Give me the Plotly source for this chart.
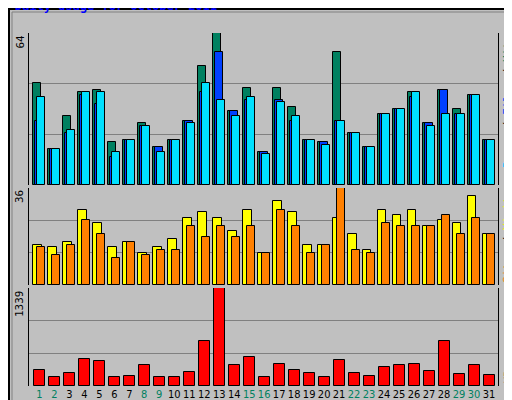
import plotly.graph_objects as go

days = list(range(1, 32))
hits = [43, 15, 29, 39, 40, 18, 19, 26, 16, 19, 27, 50, 64, 31, 41, 14,
        41, 33, 19, 18, 56, 22, 16, 30, 32, 39, 26, 40, 32, 38, 19]
files = [27, 15, 22, 38, 34, 12, 19, 25, 16, 19, 27, 39, 56, 31, 36, 14,
         36, 27, 19, 18, 27, 22, 16, 30, 32, 37, 26, 40, 30, 38, 19]
pages = [37, 15, 23, 39, 39, 14, 19, 25, 14, 19, 26, 43, 36, 29, 37, 13,
         35, 29, 19, 17, 27, 22, 16, 30, 32, 39, 25, 30, 30, 38, 19]
visits = [15, 14, 16, 28, 23, 14, 16, 12, 14, 17, 25, 27, 25, 20, 28, 12,
          31, 27, 15, 15, 25, 19, 13, 28, 26, 28, 22, 24, 23, 33, 19]
sites = [14, 11, 15, 24, 19, 10, 16, 11, 13, 13, 22, 18, 22, 18, 22, 12,
         28, 22, 12, 15, 36, 13, 12, 23, 22, 22, 22, 26, 19, 25, 19]
kbytes = [225, 122, 181, 371, 342, 122, 137, 283, 122, 122, 195, 621, 1339, 283, 401, 122,
          298, 225, 181, 122, 357, 181, 137, 254, 283, 298, 210, 621, 166, 283, 152]
weekend = [1, 2, 8, 9, 15, 16, 22, 23, 29, 30]

H = 400
def dom(top_px, bot_px, t=25, b=22):
    ph = H - t - b
    return [(H - b - bot_px) / ph, (H - b - top_px) / ph]

fig = go.Figure()
line = dict(color="black", width=1)
def bar(y, color, off, w, ax):
    fig.add_trace(go.Bar(x=days, y=y, marker=dict(color=color, line=line),
                         offset=off, width=w, xaxis="x", yaxis=ax, showlegend=False))

bar(hits, "#008060", -0.4, 0.52, "y")
bar(files, "#0040FF", -0.27, 0.52, "y")
bar(pages, "#00E0FF", -0.13, 0.52, "y")
bar(visits, "#FFFF00", -0.4, 0.56, "y2")
bar(sites, "#FF8000", -0.13, 0.52, "y2")
bar(kbytes, "#FF0000", -0.33, 0.7, "y3")

ticktext = [f'<span style="color:#008060">{d}</span>' if d in weekend else str(d) for d in days]
axstyle = dict(showline=True, mirror=True, linecolor="black", gridcolor="#808080",
               showticklabels=False, zeroline=False, ticks="", automargin=False)
fig.update_layout(
    width=512, height=400, barmode="overlay",
    paper_bgcolor="#C0C0C0", plot_bgcolor="#C0C0C0",
    margin=dict(l=21, r=22, t=25, b=22, autoexpand=False),
    font=dict(family="DejaVu Sans Mono", size=12, color="black"),
    xaxis=dict(range=[0.31, 31.6], tickvals=days, ticktext=ticktext, anchor="y3",
               showline=False, showgrid=False, ticks="", tickangle=0, automargin=False,
               tickfont=dict(size=11, family="DejaVu Sans Condensed")),
    yaxis=dict(domain=dom(25, 177), range=[0, 64], tickvals=[64/3, 128/3], **axstyle),
    yaxis2=dict(domain=dom(180, 277), range=[0, 36], tickvals=[12, 24], **axstyle),
    yaxis3=dict(domain=dom(280, 378), range=[0, 1339], tickvals=[1339/3, 2678/3], **axstyle),
    bargap=0,
)

ann = [
    dict(x=-16/469, y=1 + 18/353, text="<b>Daily usage for October 2011</b>", xanchor="left",
         yanchor="bottom", font=dict(color="#0000FF", size=12), yref="paper"),
    dict(x=0, y=64, yref="y", text="64", textangle=-90, xanchor="right", yanchor="top", xshift=-1),
    dict(x=0, y=36, yref="y2", text="36", textangle=-90, xanchor="right", yanchor="top", xshift=-1),
    dict(x=0, y=1339, yref="y3", text="1339", textangle=-90, xanchor="right", yanchor="top", xshift=-1),
    dict(x=1, y=64, yref="y", textangle=-90, xanchor="left", yanchor="top", xshift=1,
         text='<span style="color:#00C0FF">Pages</span> / <span style="color:#0040FF">Files</span> / <span style="color:#008060">Hits</span>'),
    dict(x=1, y=36, yref="y2", textangle=-90, xanchor="left", yanchor="top", xshift=1,
         text='<span style="color:#FF8000">Sites</span> / <span style="color:#FFFF00">Visits</span>'),
    dict(x=1, y=0, yref="y3", textangle=-90, xanchor="left", yanchor="bottom", xshift=1,
         text='<span style="color:#FF0000">KBytes</span>'),
]
for a in ann:
    a.setdefault("xref", "paper")
    a["showarrow"] = False
    a.setdefault("font", dict(size=11))
fig.update_layout(annotations=ann)

fig.add_shape(type="rect", xref="paper", yref="paper", x0=-20/469, x1=1+20/469,
              y0=-21/353, y1=1+24/353, line=dict(color="black", width=2))
fig.add_shape(type="rect", xref="paper", yref="paper", x0=-17/469, x1=1+16/469,
              y0=-17/353, y1=1+21/353, line=dict(color="#808080", width=1))

fig.write_html("out.html")
